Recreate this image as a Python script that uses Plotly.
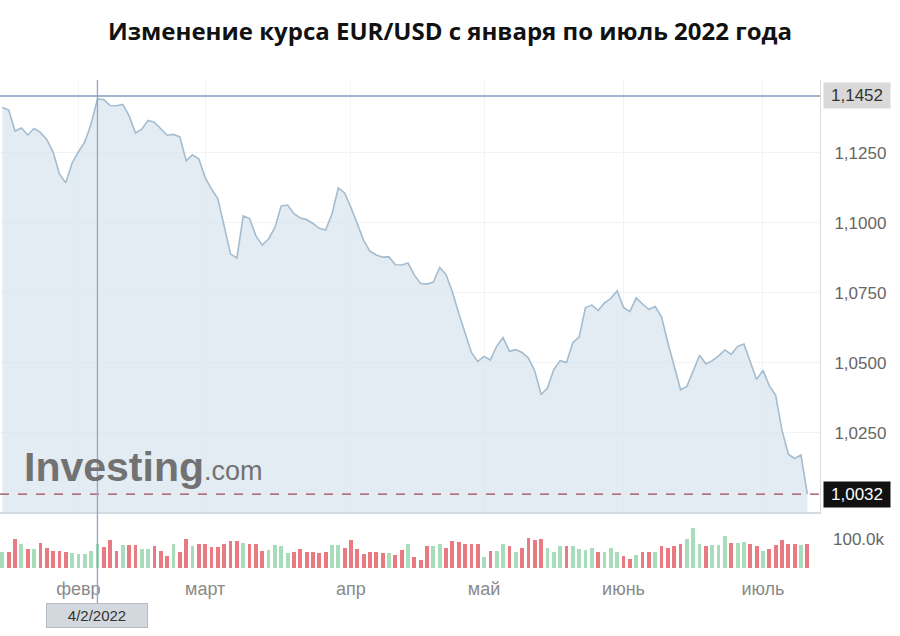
import pandas as pd
import plotly.graph_objects as go

# ---------------- data ----------------
dates = pd.bdate_range("2022-01-14", "2022-07-12")

prices = [
    1.1411, 1.1402, 1.1327, 1.1338, 1.1313, 1.1336, 1.1322, 1.1297, 1.1252, 1.1174,
    1.1142, 1.1213, 1.1253, 1.1288, 1.1352, 1.1441, 1.1439, 1.1418, 1.1417, 1.1422,
    1.1381, 1.1320, 1.1334, 1.1365, 1.1358, 1.1334, 1.1312, 1.1315, 1.1306, 1.1221,
    1.1242, 1.1227, 1.1161, 1.1120, 1.1085, 1.0988, 1.0888, 1.0874, 1.1024, 1.1015,
    1.0953, 1.0920, 1.0942, 1.0983, 1.1060, 1.1063, 1.1032, 1.1017, 1.1011, 1.0997,
    1.0980, 1.0974, 1.1031, 1.1124, 1.1106, 1.1054, 1.0997, 1.0937, 1.0898, 1.0885,
    1.0877, 1.0878, 1.0850, 1.0849, 1.0856, 1.0813, 1.0783, 1.0781, 1.0788, 1.0840,
    1.0815, 1.0753, 1.0677, 1.0603, 1.0537, 1.0505, 1.0523, 1.0510, 1.0560, 1.0590,
    1.0541, 1.0547, 1.0537, 1.0517, 1.0471, 1.0387, 1.0410, 1.0476, 1.0508, 1.0501,
    1.0572, 1.0592, 1.0697, 1.0706, 1.0687, 1.0714, 1.0730, 1.0757, 1.0698, 1.0683,
    1.0732, 1.0710, 1.0691, 1.0701, 1.0664, 1.0572, 1.0484, 1.0404, 1.0416, 1.0473,
    1.0527, 1.0496, 1.0508, 1.0525, 1.0546, 1.0530, 1.0559, 1.0567, 1.0503, 1.0441,
    1.0473, 1.0419, 1.0385, 1.0260, 1.0174, 1.0159, 1.0171, 1.0032,
]

volumes_k = [
    54, 54, 100, 83, 65, 65, 88, 69, 60, 60, 54, 52, 48, 48, 60, 85, 74, 97, 60, 80,
    80, 80, 65, 65, 77, 60, 43, 85, 54, 100, 77, 85, 85, 74, 74, 85, 94, 94, 88, 85,
    85, 60, 62,
    80, 77, 51, 54, 65, 54, 54, 51, 54, 80, 80, 71, 97, 65, 48, 54, 54, 52, 51, 46,
    62, 85, 39, 28, 77, 77, 85, 71, 94, 92, 83, 85, 83, 39, 60, 60, 85, 77, 57, 69,
    106, 97,
    100, 71, 54, 77, 77, 77, 65, 62, 69, 54, 54, 69, 54, 43, 31, 46, 54, 54, 54, 77,
    71, 77, 85, 100, 138, 85, 77, 80, 80, 111, 88, 88, 92, 83, 77, 60, 65, 80, 97, 85,
    85, 80, 85,
]

month_starts = ["2022-02-01", "2022-03-01", "2022-04-01", "2022-05-02", "2022-06-01", "2022-07-01"]
month_labels = ["февр", "март", "апр", "май", "июнь", "июль"]

price_ticks = [1.1250, 1.1000, 1.0750, 1.0500, 1.0250]
price_tick_labels = ["1,1250", "1,1000", "1,0750", "1,0500", "1,0250"]
high_value, high_label = 1.1452, "1,1452"
last_value, last_label = 1.0032, "1,0032"
volume_ticks = [100000]
volume_tick_labels = ["100.0k"]
cursor_date, cursor_label = "2022-02-04", "4/2/2022"
title_text = "Изменение курса EUR/USD с января по июль 2022 года"

# ---------------- figure ----------------
volumes = [v * 1000 for v in volumes_k]
bar_colors = ["#a9dcbb"] + [
    "#a9dcbb" if prices[i] >= prices[i - 1] else "#ea7a82" for i in range(1, len(prices))
]

XD = 820 / 900
fig = go.Figure()

fig.add_trace(go.Scatter(
    x=dates, y=prices, mode="lines",
    line=dict(color="#a3bccf", width=1.6),
    fill="tozeroy", fillcolor="rgba(214,226,236,0.65)",
    xaxis="x", yaxis="y", hoverinfo="skip",
))
fig.add_trace(go.Bar(
    x=dates, y=volumes, marker=dict(color=bar_colors, line=dict(width=0)),
    width=0.6 * 86400000, xaxis="x2", yaxis="y2", hoverinfo="skip",
))

xrange = ["2022-01-13 15:00", "2022-07-14 00:00"]
common_x = dict(
    type="date", range=xrange, domain=[0, XD],
    rangebreaks=[dict(bounds=["sat", "mon"])],
    tickvals=month_starts, ticktext=month_labels,
    gridcolor="#f3f4f6", zeroline=False, fixedrange=True,
)

fig.update_layout(
    width=900, height=636,
    margin=dict(l=0, r=0, t=80, b=68),
    paper_bgcolor="white", plot_bgcolor="white",
    showlegend=False, bargap=0,
    font=dict(family="Liberation Sans, Arial, sans-serif", color="#666"),
    title=dict(text="<b>" + title_text + "</b>", x=0.5, xanchor="center",
               y=1 - 32 / 636, yanchor="middle",
               font=dict(family="Open Sans", size=24, color="#111")),
    xaxis=dict(**common_x, anchor="y", showticklabels=False,
               showline=True, linecolor="#d4dbe2", linewidth=2),
    xaxis2=dict(**common_x, anchor="y2", matches="x", showgrid=False,
                tickfont=dict(size=18, color="#8a8a8a"), ticklabelstandoff=8),
    yaxis=dict(domain=[56 / 488, 1], range=[0.9968, 1.1509], side="right", anchor="x",
               tickvals=price_ticks, ticktext=price_tick_labels,
               tickfont=dict(size=17, color="#666"), ticklabelstandoff=10,
               gridcolor="#f1f2f4", zeroline=False, showline=True, linecolor="#dcdcdc",
               fixedrange=True),
    yaxis2=dict(domain=[0, 46 / 488], range=[0, 160000], side="right", anchor="x2",
                tickvals=volume_ticks, ticktext=volume_tick_labels,
                tickfont=dict(size=17, color="#666"), ticklabelstandoff=12,
                showgrid=False, zeroline=False, fixedrange=True),
)

# high line and current-price line
fig.add_shape(type="line", xref="x domain", yref="y", x0=0, x1=1, y0=high_value, y1=high_value,
              line=dict(color="#7d9fbe", width=1.5))
fig.add_shape(type="line", xref="x domain", yref="y", x0=0, x1=1, y0=last_value, y1=last_value,
              line=dict(color="#9a4a5a", width=1.2, dash="dash"))
# cursor line
fig.add_shape(type="line", xref="x", yref="paper", x0=cursor_date, x1=cursor_date, y0=-0.072, y1=1.0,
              line=dict(color="#8aa9c6", width=1.3))

# price badges
fig.add_annotation(xref="paper", yref="y", x=XD, y=high_value, xanchor="left", xshift=3,
                   text=high_label, showarrow=False, bgcolor="#d9d9d9", borderpad=3, width=60,
                   font=dict(size=17, color="#333"))
fig.add_annotation(xref="paper", yref="y", x=XD, y=last_value, xanchor="left", xshift=3,
                   text=last_label, showarrow=False, bgcolor="#111111", borderpad=3, width=60,
                   font=dict(size=17, color="white"))

# date badge
fig.add_annotation(xref="x", yref="paper", x=cursor_date, y=-0.1233, text=cursor_label,
                   showarrow=False, bgcolor="#d3d8de", bordercolor="#b3bcc6", borderwidth=1,
                   borderpad=3, width=94, font=dict(size=15, color="#333"))

# watermark
fig.add_annotation(xref="paper", yref="paper", x=22 / 900, y=(568 - 467) / 488, xanchor="left",
                   yanchor="middle", text="<b>Investing</b>", showarrow=False,
                   font=dict(family="Liberation Sans", size=41, color="#727272"))
fig.add_annotation(xref="paper", yref="paper", x=202 / 900, y=(568 - 471) / 488, xanchor="left",
                   yanchor="middle", text=".com", showarrow=False,
                   font=dict(family="Liberation Sans", size=27, color="#727272"))

fig.write_html("out.html", config={"displayModeBar": False},
               post_script="document.body.style.margin='0';")
